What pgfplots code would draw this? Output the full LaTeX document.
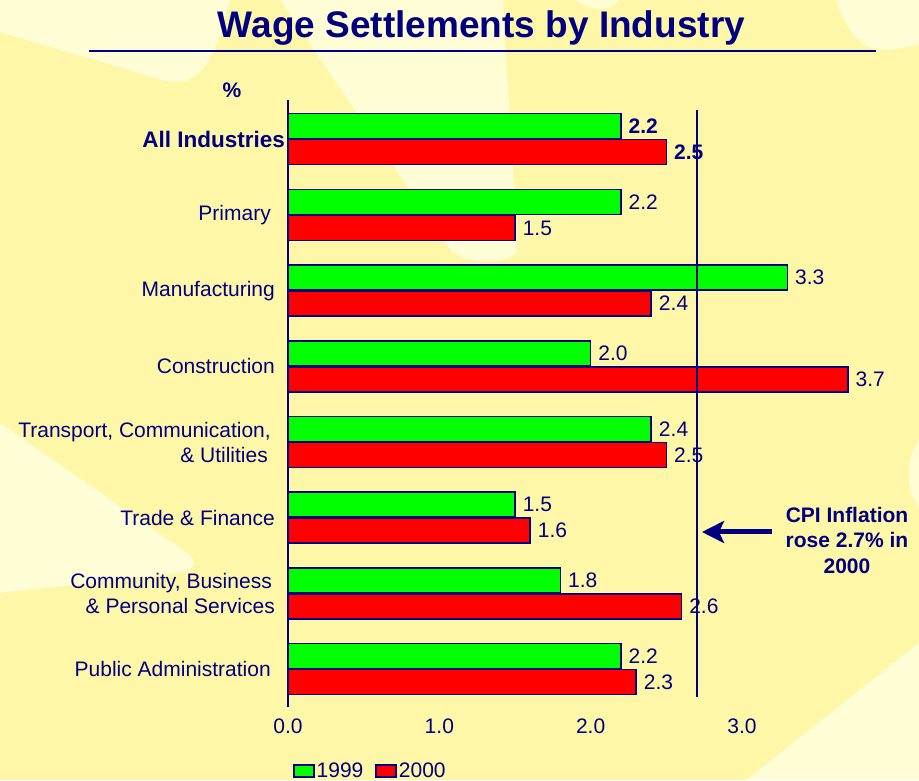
\documentclass[border=0pt]{standalone}
\usepackage{pgfplots}
\pgfplotsset{compat=1.18}
\usepackage{fontspec}
\setmainfont{Liberation Sans}
\usetikzlibrary{arrows.meta}
\definecolor{bgY}{RGB}{255,247,168}
\definecolor{bgL}{RGB}{255,253,214}
\definecolor{navy}{RGB}{0,0,128}
\definecolor{barG}{RGB}{0,255,0}
\definecolor{barR}{RGB}{255,0,0}
\newcommand{\lbl}{\fontsize{21}{25}\selectfont}
\begin{document}
\begin{tikzpicture}[x=1pt,y=1pt]
\fill[bgY] (0,0) rectangle (919,780);
\begin{scope}
\clip (0,0) rectangle (919,780);
\fill[bgL] (0,780) -- (0,748) -- (163,700) .. controls (200,690) and (215,720) .. (230,780) -- cycle;
\fill[bgL] (280,780) -- (452,528) .. controls (470,515) and (505,515) .. (517,528) .. controls (512,650) and (505,720) .. (503,780) -- cycle;
\fill[bgL] (576,780) .. controls (590,768) and (610,768) .. (619,780) -- cycle;
\fill[bgL] (836,780) .. controls (850,740) and (865,730) .. (889,730) -- (919,735) -- (919,780) -- cycle;
\fill[bgL] (0,357) -- (187,227) .. controls (197,220) and (195,212) .. (185,208) -- (0,187) -- cycle;
\fill[bgL] (919,340) .. controls (905,320) and (905,290) .. (919,273) -- cycle;
\fill[bgL] (746,0) -- (919,137) -- (919,0) -- cycle;
\end{scope}
% title
\node[anchor=base, text=navy, font=\fontsize{37}{40}\selectfont\bfseries, inner sep=0pt] at (481.5,742) {Wage Settlements by Industry};
\draw[navy, line width=2.5pt] (89,729) -- (876,729);
\node[text=navy, font=\lbl\bfseries, inner sep=0pt] at (232,690) {\%};
\begin{axis}[
  at={(288pt,73pt)}, anchor=south west,
  scale only axis, width=590.2pt, height=607.2pt,
  xmin=0, xmax=3.9, ymin=-0.5, ymax=7.52,
  clip=false,
  axis line style={draw=none},
  major tick style={draw=none},
  xtick={0,1,2,3},
  xticklabel={\pgfmathprintnumber[fixed,zerofill,precision=1,assume math mode=true]{\tick}},
  xticklabel style={text=navy, font=\lbl, inner sep=0pt, yshift=-12pt},
  ytick={0,1,2,3,4,5,6,7},
  yticklabels={{Public Administration\kern4pt},
    {Community, Business\kern3pt\\\& Personal Services},
    {Trade \& Finance},
    {Transport, Communication,\kern4pt\\\& Utilities\kern7pt},
    {Construction},
    {Manufacturing},
    {Primary\kern4pt},
    {\fontsize{22.5}{25}\selectfont\bfseries All Industries\kern-10pt}},
  yticklabel style={text=navy, font=\lbl, align=right, inner sep=0pt, xshift=-13pt},
  legend style={at={(0.0085,-0.105)}, anchor=west, draw=none, fill=none,
    font=\lbl, text=navy, inner sep=0pt, legend columns=-1,
    /tikz/every even column/.append style={column sep=10pt}},
  legend cell align=left,
  every axis plot/.append style={xbar, bar width=25pt, bar shift=0pt, draw=navy, line width=1.6pt,
    point meta=x,
    nodes near coords={\pgfmathprintnumber[fixed,zerofill,precision=1,assume math mode=true]{\pgfplotspointmeta}},
    nodes near coords style={anchor=west, inner sep=0pt, xshift=7pt, text=navy, font=\lbl}},
]
\addplot[fill=barG,
  legend image code/.code={\draw[fill=barG,draw=navy,line width=1.5pt] (0pt,-6pt) rectangle (20pt,6pt);}]
  coordinates {(2.2,0.172) (1.8,1.172) (1.5,2.172) (2.4,3.172) (2.0,4.172) (3.3,5.172) (2.2,6.172)};
\addlegendentry{1999}
\addplot[fill=barR,
  legend image code/.code={\draw[fill=barR,draw=navy,line width=1.5pt] (0pt,-6pt) rectangle (20pt,6pt);}]
  coordinates {(2.3,-0.172) (2.6,0.828) (1.6,1.828) (2.5,2.828) (3.7,3.828) (2.4,4.828) (1.5,5.828)};
\addlegendentry{2000}
\addplot[forget plot, fill=barG, nodes near coords style={font=\lbl\bfseries}]
  coordinates {(2.2,7.172)};
\addplot[forget plot, fill=barR, nodes near coords style={font=\lbl\bfseries}]
  coordinates {(2.5,6.828)};
\draw[navy, line width=2pt] (axis cs:0,-0.5) -- (axis cs:0,7.52);
\draw[navy, line width=2pt] (axis cs:2.7,-0.368) -- (axis cs:2.7,7.385);
\end{axis}
\draw[navy, line width=5pt, -{Stealth[length=22pt,width=22pt,inset=5pt]}] (772,248) -- (702,248);
\node[text=navy, font=\fontsize{21}{25.5}\selectfont\bfseries, align=center, inner sep=0pt] at (847,240) {CPI Inflation\\rose 2.7\% in\\2000};
\pgfresetboundingbox
\useasboundingbox (0,0) rectangle (919,780);
\end{tikzpicture}
\end{document}
